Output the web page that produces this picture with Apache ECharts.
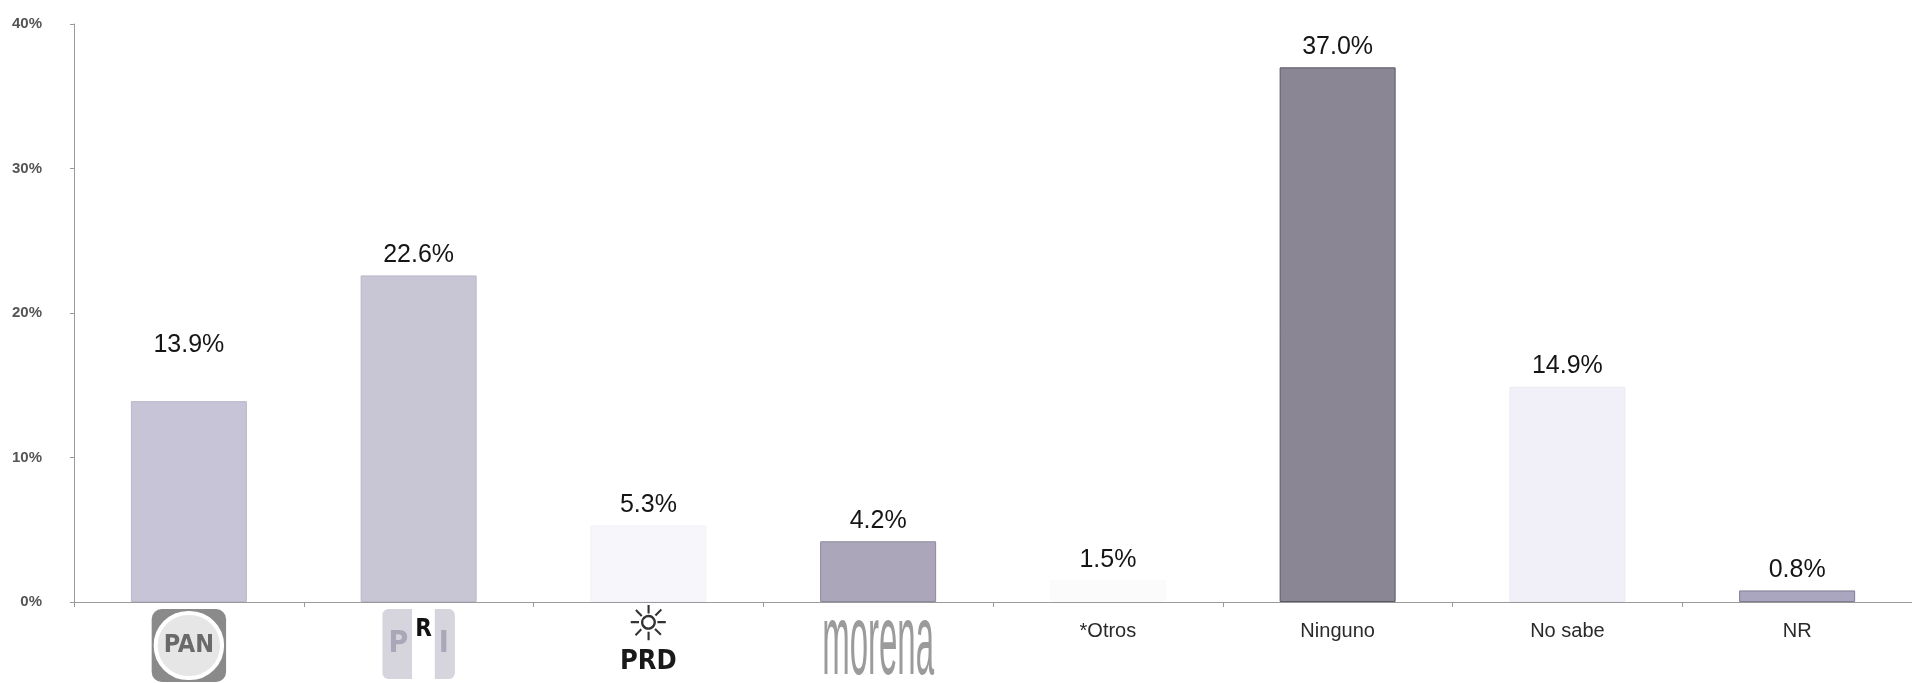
<!DOCTYPE html>
<html>
<head>
<meta charset="utf-8">
<script src="https://cdn.jsdelivr.net/npm/echarts@6/dist/echarts.min.js"></script>
<style>
html,body{margin:0;padding:0;background:#fff;}
#c{width:1912px;height:683px;}
</style>
</head>
<body>
<div id="c"></div>
<script>
const categories = ['PAN', 'PRI', 'PRD', 'morena', '*Otros', 'Ninguno', 'No sabe', 'NR'];
const values = [13.9, 22.6, 5.3, 4.2, 1.5, 37.0, 14.9, 0.8];
const yTicks = [0, 10, 20, 30, 40];

const barColors = ['#c7c4d7', '#c8c6d5', '#f7f6fa', '#aba6b9', '#fbfbfc', '#8a8694', '#f1eff7', '#aaa6c0'];
const barBorders = ['#bab7ca', '#bab8c8', '#f3f2f6', '#8e899c', '#fbfbfc', '#5a5662', '#ebe9f1', '#7f7b93'];
const labelDistance = [44, 8, 8, 8, 8, 8, 8, 8];

const chart = echarts.init(document.getElementById('c'));

function labelFmt(v) {
  if (v === 'PAN') return '{pan|PAN}';
  if (v === 'PRI') return '{pri1|P}{pri2|R}{pri3|I}';
  if (v === 'PRD') return '{sun|☼}\n{prd|PRD}';
  if (v === 'morena') return '';
  return '{txt|' + v + '}';
}

const axisData = categories.map(function (c) {
  if (c === 'PAN') {
    return { value: c, textStyle: { backgroundColor: '#8a8a8a', borderRadius: 10, padding: [6, 6, 6, 6] } };
  }
  return c;
});

chart.setOption({
  animation: false,
  grid: { left: 74, right: -22, top: 24, bottom: 81, containLabel: false },
  xAxis: {
    type: 'category',
    data: axisData,
    axisLine: { lineStyle: { color: '#9a9a9a', width: 1 } },
    axisTick: { show: true, length: 5, lineStyle: { color: '#9a9a9a' } },
    axisLabel: {
      margin: 7,
      interval: 0,
      formatter: labelFmt,
      rich: {
        txt: { fontFamily: 'Liberation Sans, Arial, sans-serif', fontSize: 20, color: '#2a2a2a', padding: [12, 0, 0, 0] },
        pan: {
          fontFamily: 'DejaVu Sans Condensed, sans-serif', fontWeight: 'bold', fontSize: 25, color: '#6a6a6a',
          backgroundColor: '#e6e6e6', borderColor: '#ffffff', borderWidth: 4, borderRadius: 34,
          padding: [18, 6, 18, 6]
        },
        pri1: { fontFamily: 'DejaVu Sans Condensed, sans-serif', fontWeight: 'bold', fontSize: 30, color: '#a9a8b8',
          backgroundColor: '#d6d5de', borderRadius: [6, 0, 0, 6], padding: [20, 4, 20, 6] },
        pri2: { fontFamily: 'DejaVu Sans Condensed, sans-serif', fontWeight: 'bold', fontSize: 24, color: '#111',
          backgroundColor: '#ffffff', padding: [6, 3, 34, 3] },
        pri3: { fontFamily: 'DejaVu Sans Condensed, sans-serif', fontWeight: 'bold', fontSize: 30, color: '#a9a8b8',
          backgroundColor: '#d6d5de', borderRadius: [0, 6, 6, 0], padding: [20, 6, 20, 4] },
        sun: { fontFamily: 'DejaVu Sans, sans-serif', fontSize: 48, color: '#333', lineHeight: 38 },
        prd: { fontFamily: 'DejaVu Sans Condensed, sans-serif', fontWeight: 'bold', fontSize: 27, color: '#1a1a1a', lineHeight: 30 }
      }
    }
  },
  yAxis: {
    type: 'value',
    min: 0,
    max: 40,
    interval: 10,
    axisLine: { show: true, lineStyle: { color: '#9a9a9a' } },
    axisTick: { show: true, length: 4, lineStyle: { color: '#9a9a9a' } },
    splitLine: { show: false },
    axisLabel: {
      margin: 32,
      fontFamily: 'Liberation Sans, Arial, sans-serif',
      fontSize: 15,
      fontWeight: 'bold',
      color: '#555',
      formatter: function (v) { return yTicks.indexOf(v) >= 0 ? v + '%' : ''; }
    }
  },
  series: [{
    type: 'bar',
    data: values.map(function (v, i) {
      return {
        value: v,
        itemStyle: { color: barColors[i], borderColor: barBorders[i], borderWidth: 1 },
        label: { distance: labelDistance[i] }
      };
    }),
    barWidth: 116,
    label: {
      show: true,
      position: 'top',
      fontFamily: 'Liberation Sans, Arial, sans-serif',
      fontSize: 25,
      color: '#151515',
      formatter: function (p) { return p.value.toFixed(1) + '%'; }
    }
  }]
});

// morena logo text: condensed, placed from the category axis scale
const mx = chart.convertToPixel({ xAxisIndex: 0 }, 'morena');
const my = chart.convertToPixel({ yAxisIndex: 0 }, 0);
chart.setOption({
  graphic: [{
    type: 'text',
    x: mx,
    y: my + 44,
    scaleX: 0.33,
    style: {
      text: 'morena',
      fontFamily: 'Liberation Sans, Arial, sans-serif',
      fontSize: 100,
      fill: '#9b9b9b',
      align: 'center',
      verticalAlign: 'middle'
    }
  }]
});
</script>
</body>
</html>
